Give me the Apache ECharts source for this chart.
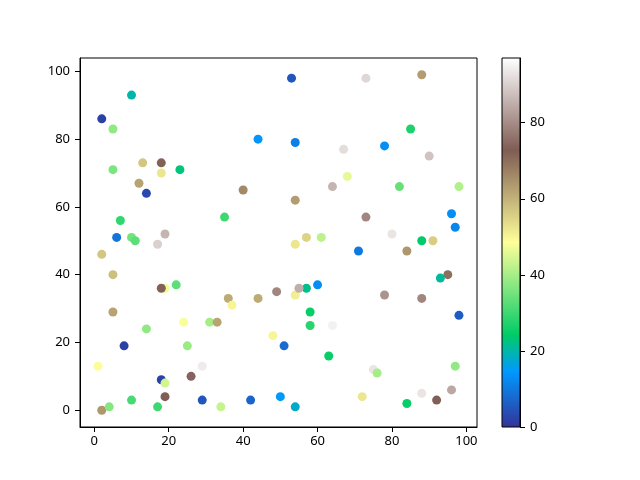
<!DOCTYPE html>
<html><head><meta charset="utf-8">
<script src="https://cdn.jsdelivr.net/npm/echarts@6/dist/echarts.min.js"></script>
<style>html,body{margin:0;padding:0;background:#fff}#c{width:640px;height:480px}</style>
</head><body><div id="c"></div>
<script>
const xValues = [2,10,5,5,13,18,18,23,12,14,7,6,10,11,19,17,2,5,19,18,22,5,14,24,25,31,33,8,1,29,18,19,26,19,17,10,2,4,29,
  53,44,54,67,68,64,40,54,35,54,57,61,73,88,74,85,78,90,82,98,73,96,97,80,88,91,
  36,37,44,49,54,57,55,60,58,58,64,48,51,63,34,42,50,54,71,84,95,93,78,88,98,97,75,76,72,88,96,92,84];
const yValues = [86,93,83,71,73,73,70,71,67,64,56,51,51,50,52,49,46,40,36,36,37,29,24,26,19,26,26,19,13,13,9,8,10,4,1,3,0,1,3,
  98,80,79,77,69,66,65,62,57,49,51,51,98,99,93,83,78,75,66,66,57,58,54,52,50,50,
  33,31,33,35,34,36,36,37,29,25,25,22,19,16,1,3,4,1,47,47,40,39,34,33,28,13,12,11,4,5,6,3,2];
const colorValues = [2,20,38,36,57,72,52,23,62,3,29,9,35,33,86,90,57,58,47,72,33,62,38,48,39,40,62,2,49,94,2,44,74,73,30,31,64,37,5,
  5,14,11,92,46,86,66,63,30,52,55,42,91,63,97,27,13,88,34,41,79,13,12,93,24,56,
  61,50,61,79,51,22,85,13,25,28,95,50,8,25,43,7,15,18,10,64,70,21,81,79,6,38,93,40,52,93,84,73,25];
const xTicks = [0,20,40,60,80,100];
const yTicks = [0,20,40,60,80,100];
const cbTicks = [0,20,40,60,80];

// terrain colormap anchors
const anchors = [[0,[0.2,0.2,0.6]],[0.15,[0,0.6,1]],[0.25,[0,0.8,0.4]],[0.5,[1,1,0.6]],[0.75,[0.5,0.36,0.33]],[1,[1,1,1]]];
function terrain(t){
  for(let i=0;i<anchors.length-1;i++){
    const [a,ca]=anchors[i],[b,cb]=anchors[i+1];
    if(t<=b+1e-9){
      const f=(t-a)/(b-a);
      const c=ca.map((v,k)=>Math.round(255*(v+(cb[k]-v)*f)));
      return 'rgb('+c.join(',')+')';
    }
  }
  return 'rgb(255,255,255)';
}
const cmap=[];
for(let i=0;i<=40;i++) cmap.push(terrain(i/40));
const gradStops = cmap.map((c,i)=>({offset:1-i/40,color:c}));

const data = xValues.map((x,i)=>[x,yValues[i],colorValues[i]]);
const cMin = 0, cMax = Math.max(...colorValues);
const font = 'Noto Sans';
const axLine = {show:true,onZero:false,lineStyle:{color:'#000',width:1}};
const tick = (vals)=>({show:true,length:5,inside:false,customValues:vals,lineStyle:{color:'#000',width:1}});
const lab = (vals,m)=>({customValues:vals,color:'#000',fontSize:13,fontFamily:font,margin:m});

const chart = echarts.init(document.getElementById('c'));
chart.setOption({
  animation:false,
  backgroundColor:'#fff',
  textStyle:{fontFamily:font},
  grid:[
    {left:80,top:58,width:397,height:369,show:true,borderColor:'#000',borderWidth:1,backgroundColor:'transparent'},
    {left:502,top:58,width:18,height:369,show:true,borderColor:'#000',borderWidth:1,backgroundColor:'transparent',z:10}
  ],
  xAxis:[
    {type:'value',gridIndex:0,min:-3.85,max:102.85,splitLine:{show:false},
     axisLine:axLine,axisTick:tick(xTicks),axisLabel:lab(xTicks,8)},
    {type:'value',gridIndex:1,min:0,max:1,show:false}
  ],
  yAxis:[
    {type:'value',gridIndex:0,min:-4.95,max:103.95,splitLine:{show:false},
     axisLine:axLine,axisTick:tick(yTicks),axisLabel:lab(yTicks,10)},
    {type:'value',gridIndex:1,min:cMin,max:cMax,position:'right',splitLine:{show:false},
     axisLine:axLine,axisTick:tick(cbTicks),axisLabel:lab(cbTicks,10)}
  ],
  visualMap:{
    type:'continuous',show:false,seriesIndex:0,dimension:2,min:cMin,max:cMax,
    inRange:{color:cmap}
  },
  graphic:[{
    type:'rect',left:502,top:58,z:5,
    shape:{width:18,height:369},
    style:{fill:new echarts.graphic.LinearGradient(0,0,0,1,gradStops)}
  }],
  series:[{
    type:'scatter',xAxisIndex:0,yAxisIndex:0,data:data,symbolSize:9,
    itemStyle:{opacity:1}
  }]
});
</script>
</body></html>
